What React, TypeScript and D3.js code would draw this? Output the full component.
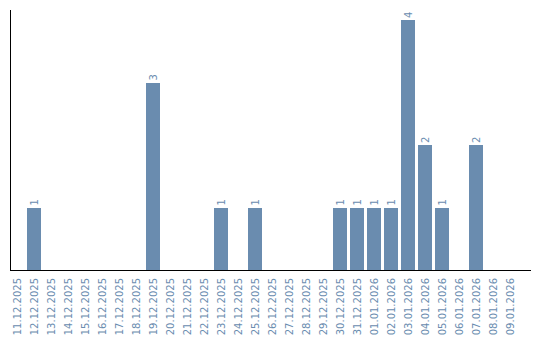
import React from "react";
import * as d3 from "d3";

const dates = [
  "11.12.2025", "12.12.2025", "13.12.2025", "14.12.2025", "15.12.2025",
  "16.12.2025", "17.12.2025", "18.12.2025", "19.12.2025", "20.12.2025",
  "21.12.2025", "22.12.2025", "23.12.2025", "24.12.2025", "25.12.2025",
  "26.12.2025", "27.12.2025", "28.12.2025", "29.12.2025", "30.12.2025",
  "31.12.2025", "01.01.2026", "02.01.2026", "03.01.2026", "04.01.2026",
  "05.01.2026", "06.01.2026", "07.01.2026", "08.01.2026", "09.01.2026",
];
const counts = [
  0, 1, 0, 0, 0, 0, 0, 0, 3, 0,
  0, 0, 1, 0, 1, 0, 0, 0, 0, 1,
  1, 1, 1, 4, 2, 1, 0, 2, 0, 0,
];

const W = 540;
const H = 340;
const color = "#6a8caf";
const font = "'DejaVu Sans', Verdana, sans-serif";

export default function App() {
  const x = d3
    .scaleBand<string>()
    .domain(dates)
    .range([10, 517])
    .paddingInner(3 / 17)
    .paddingOuter(0);
  const y = d3.scaleLinear().domain([0, 4]).range([270, 20]);
  const baseY = y(0);

  return (
    <svg
      width={W}
      height={H}
      style={{ position: "absolute", left: 0, top: 0, background: "#fff" }}
    >
      <g shapeRendering="crispEdges">
        {dates.map((d, i) =>
          counts[i] > 0 ? (
            <rect
              key={d}
              x={x(d)}
              y={y(counts[i])}
              width={x.bandwidth()}
              height={baseY - y(counts[i])}
              fill={color}
            />
          ) : null
        )}
      </g>
      {dates.map((d, i) => {
        if (counts[i] <= 0) return null;
        const cx = (x(d) as number) + x.bandwidth() / 2;
        const ty = y(counts[i]) - 2;
        return (
          <text
            key={"v" + d}
            transform={`translate(${cx + 3.5},${ty}) rotate(-90)`}
            fontFamily={font}
            fontSize={10}
            fill={color}
            textAnchor="start"
          >
            {counts[i]}
          </text>
        );
      })}
      <line x1={10.5} x2={10.5} y1={10} y2={baseY} stroke="#000" strokeWidth={1} />
      <line x1={10} x2={531} y1={baseY + 0.5} y2={baseY + 0.5} stroke="#000" strokeWidth={1} />
      {dates.map((d) => {
        const cx = (x(d) as number) + x.bandwidth() / 2;
        return (
          <text
            key={"l" + d}
            transform={`translate(${cx + 3.5},${baseY + 8}) rotate(-90)`}
            fontFamily={font}
            fontSize={10}
            fill={color}
            textAnchor="end"
          >
            {d}
          </text>
        );
      })}
    </svg>
  );
}
